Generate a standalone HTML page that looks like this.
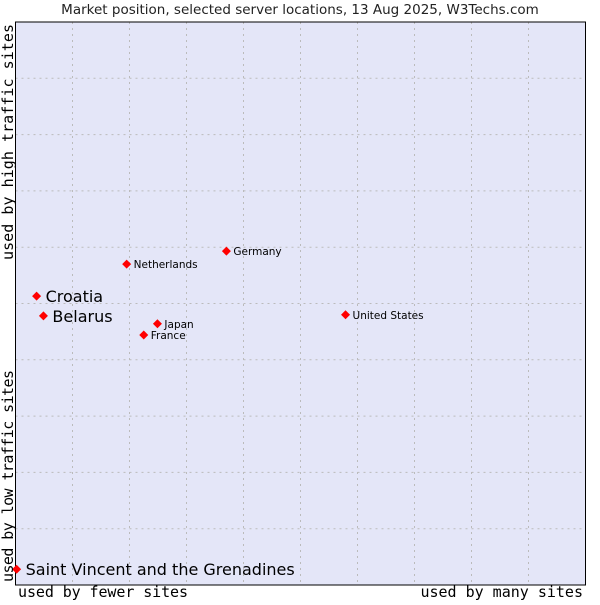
<!DOCTYPE html>
<html><head><meta charset="utf-8"><style>
body{margin:0;background:#fff;}
svg text{font-family:"DejaVu Sans","Liberation Sans",sans-serif;}
.mono{font-family:"DejaVu Sans Mono","Liberation Mono",monospace;font-size:15px;}
</style></head><body>
<svg id="chart" width="600" height="600">
<text x="300" y="14" text-anchor="middle" font-size="13.5" fill="#222">Market position, selected server locations, 13 Aug 2025, W3Techs.com</text>
<rect x="15.5" y="22" width="570" height="563" fill="#e4e6f8"/>
<g id="grid"></g>
<rect x="15.5" y="22" width="570" height="563" fill="none" stroke="#000" stroke-width="1"/>
<g id="points"></g>
<text class="mono" x="18" y="597" textLength="170">used by fewer sites</text>
<text class="mono" x="583" y="597" text-anchor="end">used by many sites</text>
<text class="mono" transform="translate(13,582) rotate(-90)" textLength="212">used by low traffic sites</text>
<text class="mono" transform="translate(13,260) rotate(-90)" textLength="236">used by high traffic sites</text>
</svg>
<script>
const names=["Saint Vincent and the Grenadines","Croatia","Belarus","Netherlands","Germany","Japan","France","United States"];
const xVals=[0.2,3.7,4.9,19.5,37.0,24.9,22.5,57.9];
const yVals=[2.8,51.3,47.8,57.0,59.3,46.4,44.4,48.0];
const highlighted=[true,true,true,false,false,false,false,false];
const L=15.5,T=22,W=570,H=563;
const sx=v=>L+v/100*W, sy=v=>T+H-v/100*H;
const NS="http://www.w3.org/2000/svg";
const g=document.getElementById('grid');
for(let i=1;i<10;i++){
  const a=document.createElementNS(NS,'line');
  a.setAttribute('x1',sx(i*10));a.setAttribute('x2',sx(i*10));a.setAttribute('y1',T);a.setAttribute('y2',T+H);
  a.setAttribute('stroke','#bbb');a.setAttribute('stroke-dasharray','2,4');
  
  
  g.appendChild(a);
  const b=document.createElementNS(NS,'line');
  b.setAttribute('y1',sy(i*10));b.setAttribute('y2',sy(i*10));b.setAttribute('x1',L);b.setAttribute('x2',L+W);
  b.setAttribute('stroke','#bbb');b.setAttribute('stroke-dasharray','2,4');
  
  
  g.appendChild(b);
}
const p=document.getElementById('points');
names.forEach((n,i)=>{
  const x=sx(xVals[i]),y=sy(yVals[i]);
  const d=document.createElementNS(NS,'polygon');
  d.setAttribute('points',`${x},${y-4.5} ${x+4.5},${y} ${x},${y+4.5} ${x-4.5},${y}`);
  d.setAttribute('fill','#f00');
  
  
  p.appendChild(d);
  const t=document.createElementNS(NS,'text');
  t.setAttribute('x',x+(highlighted[i]?9:7));
  t.setAttribute('y',y+(highlighted[i]?6:4));
  t.setAttribute('font-size',highlighted[i]?16:10.5);
  t.setAttribute('fill','#000');
  t.textContent=n;
  
  
  p.appendChild(t);
});
</script>
</body></html>
